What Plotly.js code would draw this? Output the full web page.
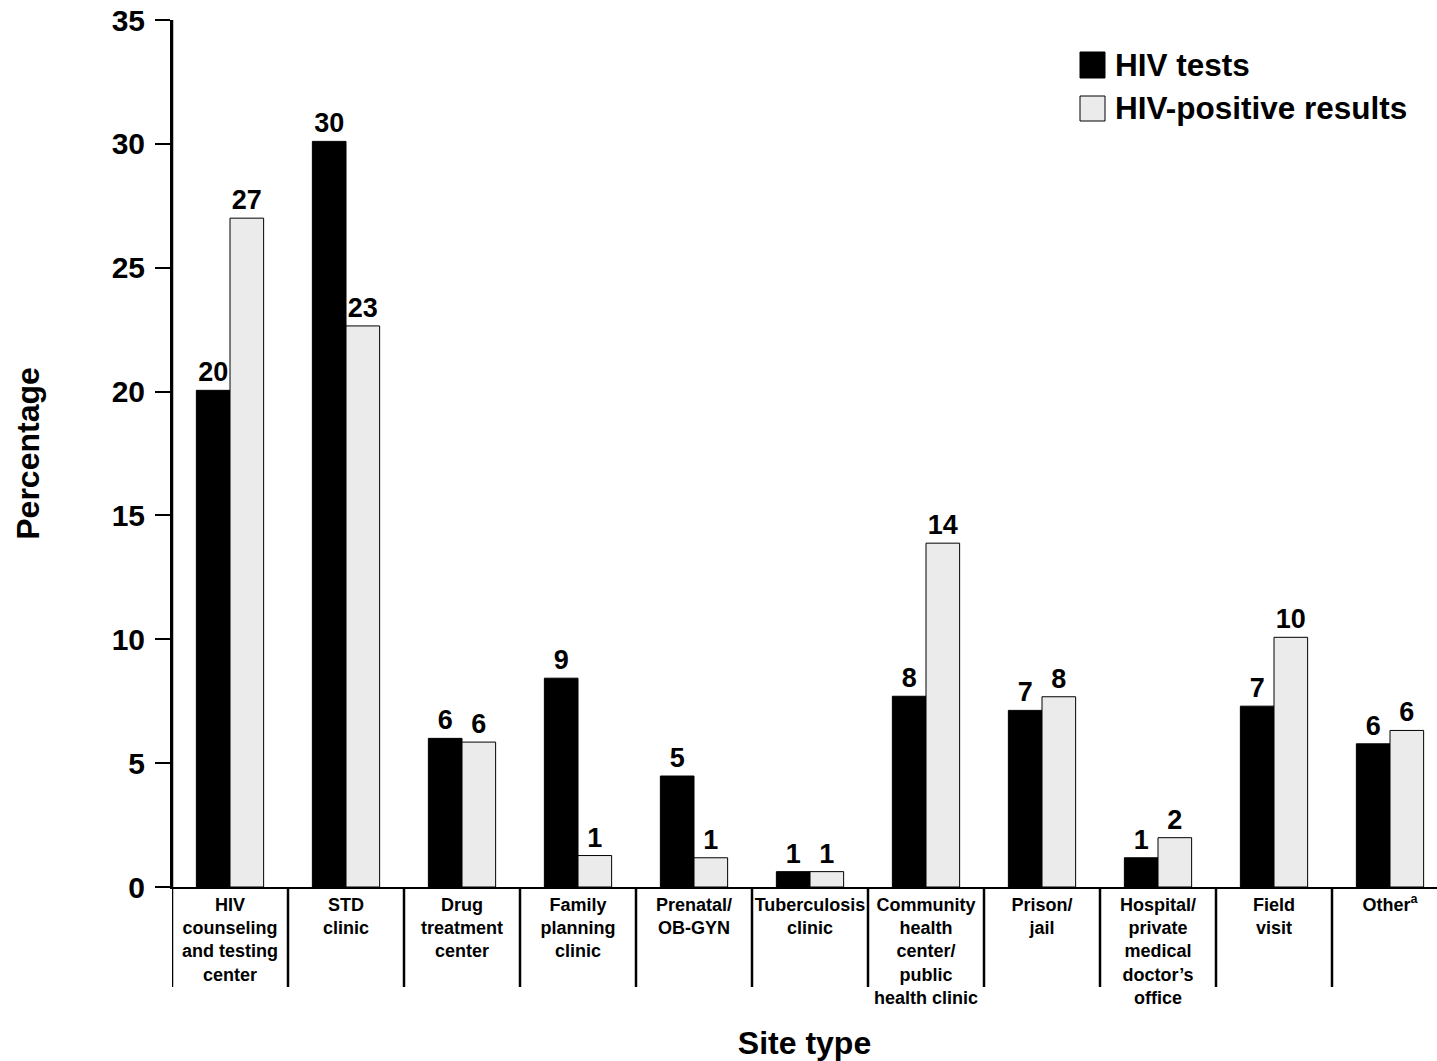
<!DOCTYPE html>
<html>
<head>
<meta charset="utf-8">
<script src="https://cdn.plot.ly/plotly-3.0.1.min.js"></script>
<style>html,body{margin:0;padding:0;background:#fff;}#chart{width:1437px;height:1061px;}</style>
</head>
<body>
<div id="chart"></div>
<script>
var categories = [
  "HIV<br>counseling<br>and testing<br>center",
  "STD<br>clinic",
  "Drug<br>treatment<br>center",
  "Family<br>planning<br>clinic",
  "Prenatal/<br>OB-GYN",
  "Tuberculosis<br>clinic",
  "Community<br>health<br>center/<br>public<br>health clinic",
  "Prison/<br>jail",
  "Hospital/<br>private<br>medical<br>doctor\u2019s<br>office",
  "Field<br>visit",
  "Other<sup>a</sup>"
];
var hivTests     = [20.05, 30.1, 6.0, 8.43, 4.48, 0.62, 7.7, 7.13, 1.18, 7.3, 5.78];
var hivPositive  = [27.0, 22.65, 5.85, 1.27, 1.18, 0.62, 13.88, 7.68, 1.99, 10.08, 6.32];
var testsLabels    = ["20","30","6","9","5","1","8","7","1","7","6"];
var positiveLabels = ["27","23","6","1","1","1","14","8","2","10","6"];
var yTicks = [0,5,10,15,20,25,30,35];

var FONT = "Liberation Sans, Arial, Helvetica, sans-serif";

var traces = [
  {type:"bar", name:"HIV tests", x:categories, y:hivTests, text:testsLabels,
   textposition:"outside", cliponaxis:false, constraintext:"none", textangle:0,
   textfont:{family:FONT, size:27, color:"#000", weight:700},
   marker:{color:"#000000", line:{color:"#000", width:1}}, hoverinfo:"y"},
  {type:"bar", name:"HIV-positive results", x:categories, y:hivPositive, text:positiveLabels,
   textposition:"outside", cliponaxis:false, constraintext:"none", textangle:0,
   textfont:{family:FONT, size:27, color:"#000", weight:700},
   marker:{color:"#ebebeb", line:{color:"#000", width:1}}, hoverinfo:"y"}
];

var L = 172, R = 1437, T = 20, B = 887;
var pw = R - L, ph = B - T;
function px(p){ return (p - L) / pw; }
function py(p){ return (B - p) / ph; }

var shapes = [];
for (var i = 0; i <= categories.length; i++) {
  shapes.push({type:"line", xref:"x", yref:"paper", x0:i-0.5, x1:i-0.5, y0:py(987), y1:(i===0?1:0),
    line:{color:"#000", width:2.5}, layer:"above"});
}
shapes.push({type:"rect", xref:"paper", yref:"paper", x0:px(1080), x1:px(1105), y0:py(78), y1:py(52),
  fillcolor:"#000", line:{color:"#000", width:1}});
shapes.push({type:"rect", xref:"paper", yref:"paper", x0:px(1080), x1:px(1105), y0:py(121), y1:py(96),
  fillcolor:"#ebebeb", line:{color:"#000", width:1}});

var annotations = [
  {xref:"paper", yref:"paper", x:px(1113), y:py(65), xanchor:"left", yanchor:"middle", showarrow:false,
   text:"HIV tests", font:{family:FONT, size:31.5, color:"#000", weight:700}},
  {xref:"paper", yref:"paper", x:px(1113), y:py(108), xanchor:"left", yanchor:"middle", showarrow:false,
   text:"HIV-positive results", font:{family:FONT, size:31.5, color:"#000", weight:700}}
];

var layout = {
  width:1437, height:1061,
  margin:{l:L, r:0, t:T, b:1061-B, pad:0},
  paper_bgcolor:"#fff", plot_bgcolor:"#fff",
  showlegend:false,
  barmode:"group", bargap:0.42, bargroupgap:0,
  font:{family:FONT, color:"#000"},
  xaxis:{type:"category", range:[-0.5, -0.5 + pw/116], showgrid:false, zeroline:false,
    showline:true, linecolor:"#000", linewidth:2, ticks:"", ticklen:0,
    tickfont:{family:FONT, size:18, color:"#000", weight:700}, tickangle:0,
    title:{text:"Site type", font:{family:FONT, size:32, color:"#000", weight:700}, standoff:24},
    fixedrange:true},
  yaxis:{range:[0,35], tickvals:yTicks, ticktext:yTicks.map(String), showgrid:false, zeroline:false,
    showline:true, linecolor:"#000", linewidth:2, ticks:"outside", ticklen:15, tickwidth:2, tickcolor:"#000",
    tickfont:{family:FONT, size:30, color:"#000", weight:700}, ticklabelstandoff:4,
    title:{text:"Percentage", font:{family:FONT, size:32, color:"#000", weight:700}, standoff:62},
    fixedrange:true},
  shapes:shapes,
  annotations:annotations
};

Plotly.newPlot("chart", traces, layout, {displayModeBar:false, staticPlot:true});
</script>
</body>
</html>
